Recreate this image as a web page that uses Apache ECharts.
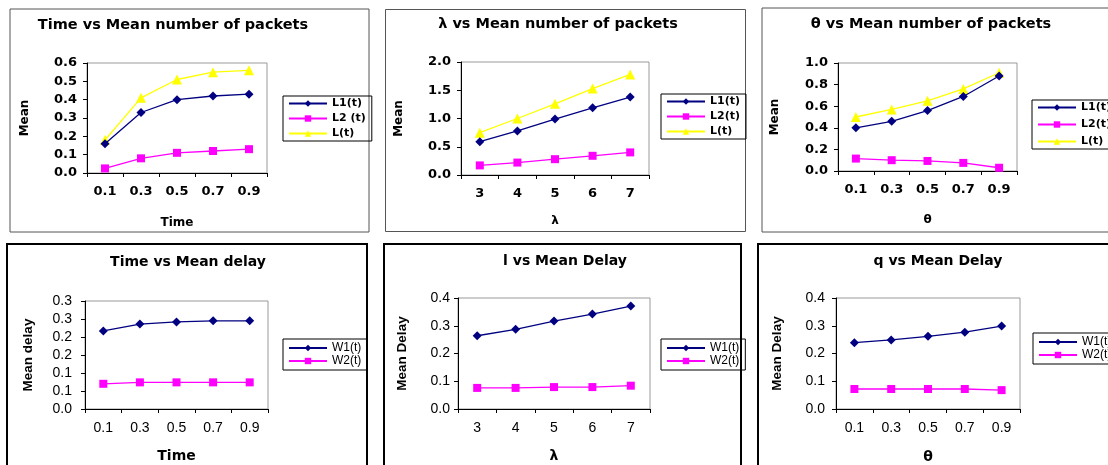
<!DOCTYPE html>
<html>
<head>
<meta charset="utf-8">
<script src="https://cdn.jsdelivr.net/npm/echarts@6/dist/echarts.min.js"></script>
<style>
html,body{margin:0;padding:0;background:#fff;}
#c{width:1108px;height:465px;}
</style>
</head>
<body>
<div id="c"></div>
<script>
// ---- categories ----
const timeCats = ['0.1', '0.3', '0.5', '0.7', '0.9'];
const lambdaCats = ['3', '4', '5', '6', '7'];
const thetaCats = ['0.1', '0.3', '0.5', '0.7', '0.9'];

// ---- series values ----
const p1L1 = [0.16, 0.33, 0.40, 0.42, 0.43];
const p1L2 = [0.025, 0.08, 0.11, 0.12, 0.13];
const p1L = [0.18, 0.41, 0.51, 0.55, 0.56];

const p2L1 = [0.59, 0.78, 0.99, 1.19, 1.38];
const p2L2 = [0.17, 0.22, 0.28, 0.34, 0.40];
const p2L = [0.75, 1.00, 1.26, 1.53, 1.78];

const p3L1 = [0.40, 0.46, 0.56, 0.69, 0.88];
const p3L2 = [0.115, 0.10, 0.093, 0.075, 0.03];
const p3L = [0.50, 0.57, 0.65, 0.76, 0.91];

const p4W1 = [0.217, 0.236, 0.242, 0.245, 0.245];
const p4W2 = [0.070, 0.074, 0.074, 0.074, 0.074];

const p5W1 = [0.264, 0.287, 0.317, 0.342, 0.371];
const p5W2 = [0.076, 0.076, 0.079, 0.079, 0.084];

const p6W1 = [0.239, 0.249, 0.262, 0.277, 0.299];
const p6W2 = [0.072, 0.072, 0.072, 0.072, 0.068];

// ---- tick labels ----
const yTicks1 = ['0.0', '0.1', '0.2', '0.3', '0.4', '0.5', '0.6'];
const yTicks2 = ['0.0', '0.5', '1.0', '1.5', '2.0'];
const yTicks3 = ['0.0', '0.2', '0.4', '0.6', '0.8', '1.0'];
const yTicks4 = ['0.0', '0.1', '0.1', '0.2', '0.2', '0.3', '0.3'];
const yTicks5 = ['0.0', '0.1', '0.2', '0.3', '0.4'];
const yTicks6 = ['0.0', '0.1', '0.2', '0.3', '0.4'];

// ---- titles / names ----
const titles = ['Time vs Mean number of packets', 'λ vs Mean number of packets', 'θ vs Mean number of packets',
                'Time vs Mean delay', 'l vs Mean Delay', 'q vs Mean Delay'];
const xNames = ['Time', 'λ', 'θ', 'Time', 'λ', 'θ'];
const yNames = ['Mean', 'Mean', 'Mean', 'Mean delay', 'Mean Delay', 'Mean Delay'];

// ---- layout (positions / styles) ----
const NAVY = '#000080', MAG = '#FF00FF', YEL = '#FFFF00';
const TOPF = "'DejaVu Sans', sans-serif";
const BOTF = "'Liberation Sans', Arial, sans-serif";

const panels = [
  {grid: {left: 87, top: 63, width: 180, height: 110}, title: [173, 18], max: 0.6, interval: 0.1, ticks: yTicks1, cats: timeCats,
   xGap: 44, yGap: 56, lblMargin: 10, top: true,
   legend: {left: 283, top: 96, w: 84, gap: 4}, series: [['L1(t)', p1L1], ['L2 (t)', p1L2], ['L(t)', p1L]]},
  {grid: {left: 461, top: 62, width: 188, height: 113}, title: [558, 17], max: 2.0, interval: 0.5, ticks: yTicks2, cats: lambdaCats,
   xGap: 40, yGap: 56, lblMargin: 10, top: true,
   legend: {left: 661, top: 94, w: 88, gap: 4}, series: [['L1(t)', p2L1], ['L2(t)', p2L2], ['L(t)', p2L]]},
  {grid: {left: 838, top: 63, width: 179, height: 108}, title: [931, 17], max: 1.0, interval: 0.2, ticks: yTicks3, cats: thetaCats,
   xGap: 43, yGap: 57, lblMargin: 10, top: true,
   legend: {left: 1032, top: 100, w: 90, gap: 6}, series: [['L1(t)', p3L1], ['L2(t)', p3L2], ['L(t)', p3L]]},
  {grid: {left: 85, top: 301, width: 183, height: 108}, title: [188, 255], max: 0.3, interval: 0.05, ticks: yTicks4, cats: timeCats,
   xGap: 40, yGap: 50, lblMargin: 13, top: false,
   legend: {left: 283, top: 339, w: 82, gap: 1}, series: [['W1(t)', p4W1], ['W2(t)', p4W2]]},
  {grid: {left: 458, top: 298, width: 192, height: 111}, title: [565, 254], max: 0.4, interval: 0.1, ticks: yTicks5, cats: lambdaCats,
   xGap: 40, yGap: 49, lblMargin: 8, top: false,
   legend: {left: 661, top: 339, w: 79, gap: 1}, series: [['W1(t)', p5W1], ['W2(t)', p5W2]]},
  {grid: {left: 836, top: 298, width: 184, height: 111}, title: [938, 254], max: 0.4, interval: 0.1, ticks: yTicks6, cats: thetaCats,
   xGap: 41, yGap: 52, lblMargin: 11, top: false,
   legend: {left: 1033, top: 333, w: 82, gap: 1}, series: [['W1(t)', p6W1], ['W2(t)', p6W2]]}
];

const styles = [
  {color: NAVY, symbol: 'diamond', size: 9},
  {color: MAG, symbol: 'rect', size: 8},
  {color: YEL, symbol: 'triangle', size: 10}
];

const option = {
  backgroundColor: '#fff',
  animation: false,
  title: [], grid: [], xAxis: [], yAxis: [], legend: [], series: [],
  graphic: [
    {type: 'rect', shape: {x: 10, y: 9, width: 359, height: 223}, style: {fill: 'none', stroke: '#555', lineWidth: 1}, z: 0},
    {type: 'rect', shape: {x: 385.5, y: 9.5, width: 360, height: 222}, style: {fill: 'none', stroke: '#555', lineWidth: 1}, z: 0},
    {type: 'rect', shape: {x: 762, y: 8, width: 360, height: 224}, style: {fill: 'none', stroke: '#555', lineWidth: 1}, z: 0},
    {type: 'rect', shape: {x: 7, y: 244, width: 360, height: 240}, style: {fill: 'none', stroke: '#000', lineWidth: 2}, z: 0},
    {type: 'rect', shape: {x: 384, y: 244, width: 357, height: 240}, style: {fill: 'none', stroke: '#000', lineWidth: 2}, z: 0},
    {type: 'rect', shape: {x: 758, y: 244, width: 360, height: 240}, style: {fill: 'none', stroke: '#000', lineWidth: 2}, z: 0}
  ]
};

panels.forEach((p, i) => {
  const tickFont = p.top
    ? {fontFamily: TOPF, fontWeight: 'bold', fontSize: 13, color: '#000'}
    : {fontFamily: BOTF, fontWeight: 'normal', fontSize: 14, color: '#000'};
  option.title.push({
    text: titles[i], left: p.title[0], top: p.title[1], textAlign: 'center', padding: 0,
    textStyle: {fontFamily: TOPF, fontWeight: 'bold', fontSize: p.top ? 14.5 : 14, color: '#000'}
  });
  option.grid.push(Object.assign({show: true, borderColor: '#999', borderWidth: 1, backgroundColor: 'transparent'}, p.grid));
  option.xAxis.push({
    type: 'category', gridIndex: i, data: p.cats, boundaryGap: true,
    name: xNames[i], nameLocation: 'middle', nameGap: p.xGap,
    nameTextStyle: {fontFamily: TOPF, fontWeight: 'bold', fontSize: p.top ? 12 : 14, color: '#000'},
    axisLine: {lineStyle: {color: '#000', width: 1}},
    axisTick: {show: true, length: 4, lineStyle: {color: '#000'}},
    axisLabel: Object.assign({margin: 12}, tickFont),
    splitLine: {show: false}
  });
  const ticks = p.ticks, iv = p.interval;
  option.yAxis.push({
    type: 'value', gridIndex: i, min: 0, max: p.max, interval: iv,
    name: yNames[i], nameLocation: 'middle', nameGap: p.yGap, nameRotate: 90,
    nameTextStyle: p.top
      ? {fontFamily: TOPF, fontWeight: 'bold', fontSize: 12, color: '#000'}
      : {fontFamily: "'Liberation Sans Narrow', 'Liberation Sans', sans-serif", fontWeight: 'bold', fontSize: 13.5, color: '#000'},
    axisLine: {show: true, lineStyle: {color: '#000', width: 1}},
    axisTick: {show: true, length: 4, lineStyle: {color: '#000'}},
    axisLabel: Object.assign({margin: p.lblMargin, formatter: (v) => ticks[Math.round(v / iv)]}, tickFont),
    splitLine: {show: false}
  });
  option.legend.push({
    orient: 'vertical', left: p.legend.left, top: p.legend.top, width: p.legend.w,
    data: p.series.map(s => s[0]),
    borderColor: '#000', borderWidth: 1, padding: p.top ? [2, 6, 2, 5] : [3, 6, 3, 5],
    itemGap: p.legend.gap, itemWidth: 38, itemHeight: 8,
    selectedMode: false,
    textStyle: p.top
      ? {fontFamily: TOPF, fontWeight: 'bold', fontSize: 11, lineHeight: 11, color: '#000'}
      : {fontFamily: BOTF, fontWeight: 'normal', fontSize: 12, color: '#000'}
  });
  p.series.forEach((s, k) => {
    const st = styles[k];
    option.series.push({
      type: 'line', name: s[0], xAxisIndex: i, yAxisIndex: i, data: s[1],
      symbol: st.symbol, symbolSize: st.size, showSymbol: true,
      lineStyle: {color: st.color, width: 1.3},
      itemStyle: {color: st.color},
      emphasis: {disabled: true}, z: 3 - k
    });
  });
});

const chart = echarts.init(document.getElementById('c'), null, {renderer: 'canvas'});
chart.setOption(option);
</script>
</body>
</html>
